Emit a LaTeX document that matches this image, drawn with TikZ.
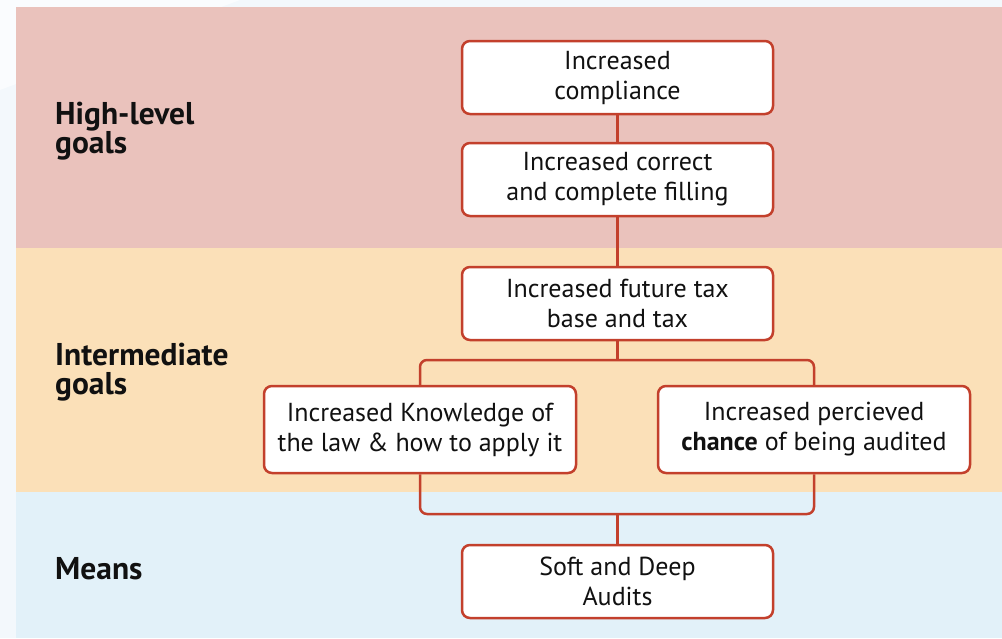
\documentclass[tikz,border=0pt]{standalone}
\usepackage{fontspec}
\setmainfont{PT Sans}
\begin{document}
\definecolor{pagebg}{HTML}{F3F8FC}
\definecolor{bandpink}{HTML}{EAC2BC}
\definecolor{bandpeach}{HTML}{FBE0B8}
\definecolor{bandblue}{HTML}{E2F1F9}
\definecolor{linkred}{HTML}{C3402C}
\definecolor{ink}{HTML}{111111}
\begin{tikzpicture}[x=1pt,y=-1pt,
  goalbox/.style={draw=linkred, line width=2.5pt, fill=white, rounded corners=8pt,
    minimum width=311pt, minimum height=73pt, align=center, text=ink,
    font=\fontsize{26}{30}\selectfont, inner sep=0pt},
  link/.style={draw=linkred, line width=2.5pt},
  tier/.style={anchor=west, align=left, text=ink, inner sep=0pt,
    font=\fontsize{31.5}{29}\selectfont\bfseries}]
\useasboundingbox (0,0) rectangle (1002,638);
% page and tier bands
\fill[pagebg] (0,0) rectangle (1002,638);
\fill[white!60!pagebg] (0,0) -- (240,0) -- (0,90) -- cycle;
\fill[bandpink] (16,7) rectangle (1002,248);
\fill[bandpeach] (16,248) rectangle (1002,492);
\fill[bandblue] (16,492) rectangle (1002,638);
% tier labels
\node[tier] (hl) at (55,131) {High-level\\goals};
\node[tier] (im) at (55,372) {Intermediate\\goals};
\node[tier] (mn) at (55,569) {Means};
% boxes
\node[goalbox] (comp) at (617.5,77.5) {Increased\\compliance};
\node[goalbox] (fill) at (617.5,179.5) {Increased correct\\and complete filling};
\node[goalbox] (base) at (617.5,303.5) {Increased future tax\\base and tax};
\node[goalbox, minimum width=312pt, minimum height=87pt] (know) at (420,429.5)
  {Increased Knowledge of\\the law \& how to apply it};
\node[goalbox, minimum width=312pt, minimum height=87pt] (audit) at (814,429.5)
  {Increased percieved\\\textbf{chance} of being audited};
\node[goalbox] (soft) at (617.5,581.5) {Soft and Deep\\Audits};
% connectors
\coordinate (split) at (617.5,360);
\coordinate (join) at (617.5,514);
\draw[link] (comp) -- (fill);
\draw[link] (fill) -- (base);
\draw[link] (base) -- (split);
\draw[link, rounded corners=7pt] (know.north) -- (know.north |- split) -- (audit.north |- split) -- (audit.north);
\draw[link, rounded corners=7pt] (know.south) -- (know.south |- join) -- (audit.south |- join) -- (audit.south);
\draw[link] (join) -- (soft);
\end{tikzpicture}
\end{document}
